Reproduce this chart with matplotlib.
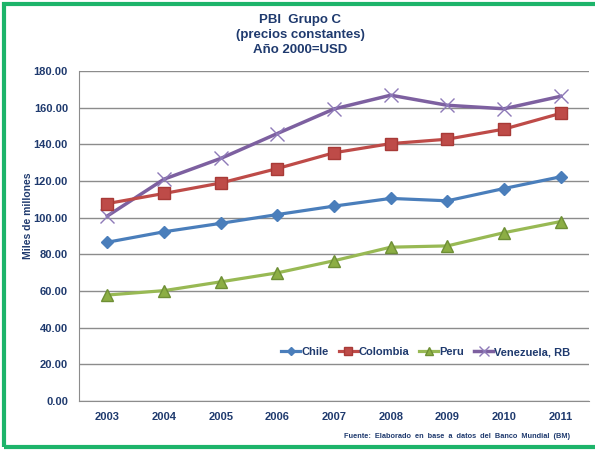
import matplotlib.pyplot as plt
import matplotlib.patches as mpatches

years = ["2003", "2004", "2005", "2006", "2007", "2008", "2009", "2010", "2011"]
chile = [86.6, 92.3, 96.9, 101.7, 106.3, 110.5, 109.2, 115.9, 122.3]
colombia = [107.7, 113.2, 118.9, 126.8, 135.4, 140.4, 142.8, 148.3, 156.9]
peru = [57.8, 60.2, 65.0, 69.9, 76.5, 83.9, 84.6, 91.8, 97.9]
venezuela = [100.9, 121.0, 132.3, 145.9, 159.3, 166.8, 161.3, 159.4, 166.2]

navy = "#1F3A6E"
plt.rcParams['font.family'] = ['Liberation Sans', 'DejaVu Sans']

fig = plt.figure(figsize=(5.95, 4.51), dpi=100)
ax = fig.add_axes([79 / 595, 1 - 401 / 451, 510 / 595, 330 / 451])

x = range(len(years))
ax.plot(x, chile, color="#4A7EBB", lw=2.3, marker="D", ms=6.5, label="Chile", zorder=4)
ax.plot(x, colombia, color="#BE4B48", lw=2.3, marker="s", ms=8, mec="#A83A37", label="Colombia", zorder=4)
ax.plot(x, peru, color="#98B954", lw=2.3, marker="^", ms=8.5, mec="#6E8F35", mfc="#8CAE44", label="Peru", zorder=4)
ax.plot(x, venezuela, color="#7D60A0", lw=2.5, marker="x", ms=10, mew=1.0, mec="#8E7AB8", label="Venezuela, RB", zorder=3)

ax.set_xlim(-0.5, len(years) - 0.5)
ax.set_ylim(0, 180)
ax.set_yticks(range(0, 181, 20))
ax.set_yticklabels([f"{v:.2f}" for v in range(0, 181, 20)])
ax.set_xticks(list(x))
ax.set_xticklabels(years)
ax.yaxis.grid(True, color="#8C8C8C", lw=1.0)
ax.set_axisbelow(True)
for s in ["top", "right"]:
    ax.spines[s].set_visible(False)
for s in ["left", "bottom"]:
    ax.spines[s].set_color("#8C8C8C")
ax.tick_params(length=0, pad=8, labelsize=8, labelcolor=navy)
for lab in ax.get_xticklabels() + ax.get_yticklabels():
    lab.set_fontweight("bold")
ax.set_ylabel("Miles de millones", fontsize=7.5, fontweight="bold", color=navy)
ax.yaxis.set_label_coords(-0.09, 0.56)

fig.text(0.505, 1 - 35 / 451, "PBI  Grupo C\n(precios constantes)\nAño 2000=USD",
         ha="center", va="center", fontsize=9.5, fontweight="bold", color=navy, linespacing=1.3)

leg = ax.legend(loc="center", bbox_to_anchor=(0.68, 0.148), ncol=4, frameon=False,
                handlelength=1.7, handletextpad=0.1, columnspacing=0.9, markerscale=0.7,
                prop={"weight": "bold", "size": 8})
for t in leg.get_texts():
    t.set_color(navy)

fig.text(570 / 595, 1 - 437 / 451, "Fuente:  Elaborado  en  base  a  datos  del  Banco  Mundial  (BM)",
         ha="right", va="center", fontsize=5.3, fontweight="bold", color=navy)

# green frame
fig.patches.append(mpatches.Rectangle((4 / 595, 4 / 451), 600 / 595, 443 / 451, transform=fig.transFigure,
                                      fill=False, edgecolor="#1DB46A", lw=3))

fig.savefig("out.png", dpi=100)
